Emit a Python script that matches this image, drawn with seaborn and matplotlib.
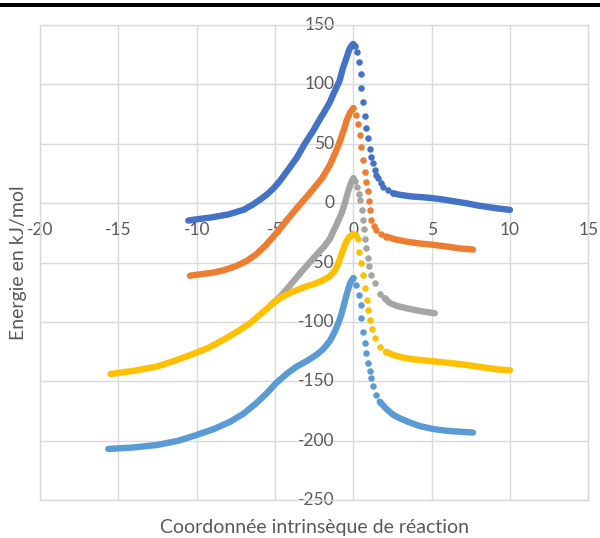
import numpy as np
import matplotlib.pyplot as plt
import seaborn as sns
from matplotlib.patches import Rectangle

# IRC profiles, ordered along the path (x: reaction coord, y: kJ/mol)
blue_x = [-10.54, -10.0, -9.0, -8.0, -7.0, -6.4, -5.9, -5.5, -5.1, -4.7, -4.2, -3.6, -3.1, -2.56,
          -2.17, -1.8, -1.5, -1.2, -0.88, -0.68, -0.47, -0.27, -0.1, 0.0,
          0.12, 0.24, 0.35, 0.46, 0.52, 0.63, 0.73, 0.84, 0.94, 1.05, 1.16, 1.27, 1.37, 1.48, 1.58,
          1.75, 1.9, 2.2, 2.54,
          3.0, 3.8, 4.5, 5.1, 5.8, 6.5, 7.2, 8.0, 9.0, 10.0]
blue_y = [-14.6, -13.5, -11.8, -9.5, -5.5, -1.0, 3.5, 7.5, 12.5, 18.5, 27.5, 38.5, 50.0, 61.0,
          70.0, 78.0, 85.0, 94.0, 103.0, 113.0, 121.0, 129.0, 133.0, 134.0,
          132.0, 127.6, 119.0, 109.0, 97.0, 85.0, 73.0, 63.0, 55.0, 46.0, 39.0, 34.0, 28.0, 24.0, 21.0,
          17.0, 14.0, 11.0, 8.4,
          7.0, 5.6, 5.0, 4.2, 3.0, 1.5, 0.0, -2.0, -4.0, -5.6]

orange_x = [-10.43, -10.0, -9.0, -8.3, -7.5, -6.8, -6.2, -5.6, -4.9, -4.2, -3.6, -3.0, -2.56, -2.0,
            -1.5, -1.1, -0.86, -0.6, -0.43, -0.2, 0.0,
            0.2, 0.31, 0.41, 0.52, 0.63, 0.75, 0.84, 0.94, 1.0, 1.05, 1.16, 1.3, 1.48, 1.75, 2.1,
            2.7, 3.4, 4.2, 5.1, 6.0, 6.8, 7.64]
orange_y = [-61, -60.2, -58.5, -56.5, -53, -48.5, -43, -35.5, -25, -13.5, -4, 5, 12, 21,
            32, 44, 52, 62, 69.5, 76.5, 80,
            74, 67, 57.5, 47.6, 36.4, 26.6, 18, 10, 2, -5.6, -14, -19, -22.5, -26, -28,
            -30.5, -32.3, -33.8, -35, -36.5, -38, -39]

gray_x = [-5.3, -4.69, -4.0, -3.4, -3.0, -2.5, -1.9, -1.5, -1.07, -0.75, -0.54, -0.33, -0.15, 0.0,
          0.12, 0.25, 0.37, 0.45, 0.55, 0.62, 0.68, 0.74, 0.84, 0.92, 1.0, 1.16, 1.37, 1.69, 2.0,
          2.33, 2.8, 3.4, 4.3, 5.2]
gray_y = [-86, -79, -68.5, -59, -53, -45.5, -37, -30, -18, -8.5, 0, 10, 17, 21,
          19, 14, 8, 3, -6, -14, -22, -30, -38, -46, -53, -60, -67, -76, -80,
          -84, -86.5, -88.4, -90.8, -92.6]

yellow_x = [-15.5, -14.0, -12.55, -11.5, -10.4, -9.3, -8.3, -7.4, -6.6, -5.8, -5.1, -4.69, -4.05,
            -3.4, -3.0, -2.4, -1.9, -1.5, -1.2, -1.0, -0.86, -0.7, -0.54, -0.3, 0.0,
            0.15, 0.31, 0.37, 0.52, 0.63, 0.75, 0.86, 0.96, 1.05, 1.17, 1.37, 1.69, 2.1,
            2.54, 3.2, 3.8, 4.5, 5.3, 6.2, 7.2, 8.2, 9.3, 10.0]
yellow_y = [-143.7, -141, -137.5, -133, -127.7, -122, -115, -108, -101, -92, -84, -80, -75.5,
            -72, -70, -67.5, -64.5, -61.5, -57, -52, -47, -41, -35, -29, -26,
            -27, -30, -40.7, -50.5, -60.4, -71.5, -81.4, -90, -98, -106, -113, -120.7, -125,
            -127.7, -130, -131.3, -132.2, -133.3, -134.5, -136, -138, -140, -140.5]

lblue_x = [-15.64, -14.0, -12.55, -11.2, -10.0, -8.9, -7.88, -7.0, -6.17, -5.5, -4.9, -4.2, -3.62,
           -3.0, -2.35, -1.9, -1.5, -1.18, -0.9, -0.75, -0.43, -0.2, 0.0,
           0.2, 0.37, 0.46, 0.52, 0.63, 0.73, 0.84, 0.94, 1.05, 1.16, 1.27, 1.45, 1.69,
           2.1, 2.54, 2.97, 3.6, 4.24, 5.1, 5.95, 6.8, 7.64]
lblue_y = [-206.8, -205.5, -203.5, -200, -195, -190, -184, -177, -168, -159.5, -151, -143, -137.5,
           -133, -127.5, -122.5, -116, -108, -99, -93, -77, -67, -63,
           -68.8, -77, -85.6, -96.8, -108, -117.8, -126.3, -134.7, -141, -147, -154, -161, -167,
           -173, -178, -181, -184.5, -187.5, -190, -191.5, -192.3, -193]

# number of points at the end of each path that sit close enough to look like a solid line
n_tail = [10, 7, 5, 10, 9]

series = [(blue_x, blue_y), (orange_x, orange_y), (gray_x, gray_y),
          (yellow_x, yellow_y), (lblue_x, lblue_y)]
colors = ['#4472C4', '#ED7D31', '#A5A5A5', '#FFC000', '#5B9BD5']

x_ticks = list(range(-20, 16, 5))
y_ticks = list(range(-250, 151, 50))

sns.set_style("white")
plt.rcParams['font.family'] = ['Lato', 'DejaVu Sans']
txt_col = '#595959'

fig = plt.figure(figsize=(6, 5.38), dpi=100)
ax = fig.add_axes([40 / 600, 1 - 500.3 / 538, 548.3 / 600, 475.3 / 538])

for i, ((xs, ys), nt, col) in enumerate(zip(series, n_tail, colors)):
    xs = np.asarray(xs, dtype=float)
    ys = np.asarray(ys, dtype=float)
    k = int(np.argmax(ys))
    t = len(xs) - nt - 1
    z = 3 + i
    # dense branches look like a continuous band in the original
    sns.lineplot(x=xs[:k + 1], y=ys[:k + 1], sort=False, estimator=None, color=col,
                 lw=4.6, solid_capstyle='round', solid_joinstyle='round', ax=ax, zorder=z)
    sns.lineplot(x=xs[t:], y=ys[t:], sort=False, estimator=None, color=col,
                 lw=4.6, solid_capstyle='round', solid_joinstyle='round', ax=ax, zorder=z)
    # sparse points going down from the transition state
    sns.scatterplot(x=xs[k:t + 1], y=ys[k:t + 1], color=col, s=22, linewidth=0, ax=ax, zorder=z)

ax.set_xlim(-20, 15)
ax.set_ylim(-250, 150)
ax.set_xticks(x_ticks)
ax.set_yticks(y_ticks)
ax.grid(True, color='#D9D9D9', lw=1)
ax.set_axisbelow(True)
ax.tick_params(length=0, labelbottom=False, labelleft=False)
ax.set_xlabel('')
ax.set_ylabel('')
for sp in ax.spines.values():
    sp.set_color('#D9D9D9')
    sp.set_linewidth(1)

# Excel-style labels sitting next to the axes that cross at the origin
for v in x_ticks:
    ax.annotate(str(v), xy=(v, 0), xytext=(0, -27 * 0.72), textcoords='offset points',
                ha='center', va='center', fontsize=12.5, color=txt_col, zorder=2,
                annotation_clip=False)
for v in y_ticks:
    ax.annotate(str(v), xy=(0, v), xytext=(-19 * 0.72, 0), textcoords='offset points',
                ha='right', va='center', fontsize=12.5, color=txt_col, zorder=2,
                annotation_clip=False)

fig.text(315 / 600, 1 - 527 / 538, 'Coordonnée intrinsèque de réaction', ha='center',
         va='center', fontsize=14, color=txt_col)
fig.text(19 / 600, 1 - 262.6 / 538, 'Energie en kJ/mol', ha='center', va='center',
         rotation=90, fontsize=14, color=txt_col)

fig.add_artist(Rectangle((0, 1 - 7 / 538), 1, 4 / 538, transform=fig.transFigure,
                         color='black', lw=0))

fig.savefig('out.png', dpi=100)
